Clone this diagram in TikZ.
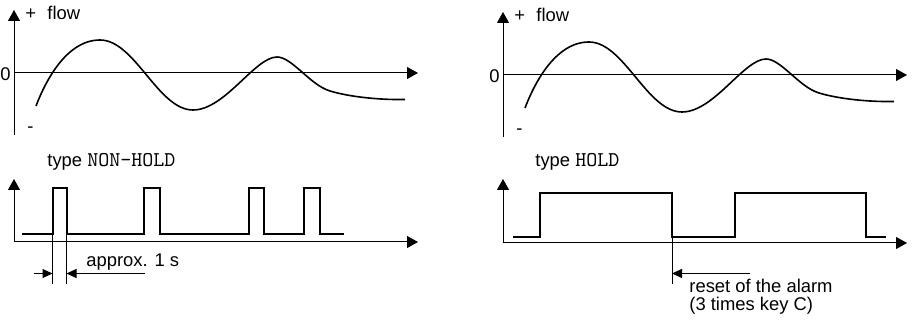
\documentclass[tikz,border=0pt]{standalone}
\usepackage{fontspec}
\setmainfont{Liberation Sans}
\usetikzlibrary{arrows.meta, positioning}
\tikzset{
  axis/.style={line width=0.5pt, -{Triangle[length=5.5pt, width=6pt]}},
  signal/.style={line width=1pt, line join=miter},
  flowcurve/.style={line width=0.8pt},
  guide/.style={line width=0.5pt},
  dimarrow/.style={line width=0.5pt, -{Triangle[length=5pt, width=4.5pt]}},
  lbl/.style={inner sep=0pt, anchor=base west, font=\fontsize{9.2}{11}\selectfont},
}
\newcommand{\keyword}[1]{{\fontsize{10.5}{11}\selectfont\ttfamily #1}}

\begin{document}
\begin{tikzpicture}[x=0.5pt, y=-0.5pt]
  \useasboundingbox (0,0) rectangle (912,320);

  % Flow panels (left and right are the same)
  \foreach \p/\dx/\dy in {a/0/0, b/489/2}{
    \begin{scope}[shift={(\dx,\dy)}]
      \coordinate (\p-yb) at (14,135);
      \coordinate (\p-yt) at (14,10);
      \coordinate (\p-x0) at (14,73);
      \coordinate (\p-xe) at (418,73);
      \draw[axis] (\p-yb) -- (\p-yt);
      \draw[axis] (\p-x0) -- (\p-xe);
      \node[lbl] (\p-plus)  at (25,20)  {+};
      \node[lbl] (\p-flow)  at (47,20)  {flow};
      \node[lbl] (\p-zero)  at (0,81)   {0};
      \node[lbl] (\p-minus) at (27,133) {-};
      \draw[flowcurve] (36,106) .. controls (44,85) and (65,40) .. (100,40)
        .. controls (135,40) and (158,110) .. (193,110)
        .. controls (225,110) and (255,57) .. (277,57)
        .. controls (292,57) and (310,85) .. (330,91)
        .. controls (350,97) and (380,100) .. (405,99.5);
    \end{scope}
  }

  % Type NON-HOLD
  \node[lbl] (nh-title) at (47,167) {type \keyword{NON-HOLD}};
  \coordinate (nh-o)  at (14,242);
  \coordinate (nh-yt) at (14,179);
  \coordinate (nh-xe) at (418,242);
  \draw[axis] (nh-o) -- (nh-yt);
  \draw[axis] (nh-o) -- (nh-xe);
  \draw[signal] (22,234) -| (53,188) -| (67,234) -| (144,188) -| (160,234)
    -| (249,188) -| (264,234) -| (304,188) -| (320,234) -- (344,234);
  \coordinate (nh-r) at (52.5,234);
  \coordinate (nh-f) at (66.5,234);
  \coordinate (nh-rb) at (52.5,284);
  \coordinate (nh-fb) at (66.5,284);
  \draw[guide] (nh-r) -- (nh-rb);
  \draw[guide] (nh-f) -- (nh-fb);
  \coordinate (nh-al) at (34,273.5);
  \coordinate (nh-ar) at (145,273.5);
  \draw[dimarrow] (nh-al) -- (nh-r |- nh-al);
  \draw[dimarrow] (nh-ar) -- (nh-f |- nh-ar);
  \node[lbl] (nh-dur) at (86,267) {approx. 1 s};

  % Type HOLD
  \node[lbl] (h-title) at (535,167) {type \keyword{HOLD}};
  \coordinate (h-o)  at (503,243);
  \coordinate (h-yt) at (503,179);
  \coordinate (h-xe) at (907,243);
  \draw[axis] (h-o) -- (h-yt);
  \draw[axis] (h-o) -- (h-xe);
  \draw[signal] (513,237) -| (540,193) -| (672,237) -| (735,193) -| (866,237)
    -- (886,237);
  \coordinate (h-reset)  at (672,237);
  \coordinate (h-resetb) at (672,284);
  \draw[guide] (h-reset) -- (h-resetb);
  \coordinate (h-ar) at (750,273.5);
  \draw[dimarrow] (h-ar) -- (h-reset |- h-ar);
  \node[lbl] (h-note1) at (689,293) {reset of the alarm};
  \node[lbl] (h-note2) at (689,311) {(3 times key C)};
\end{tikzpicture}
\end{document}
